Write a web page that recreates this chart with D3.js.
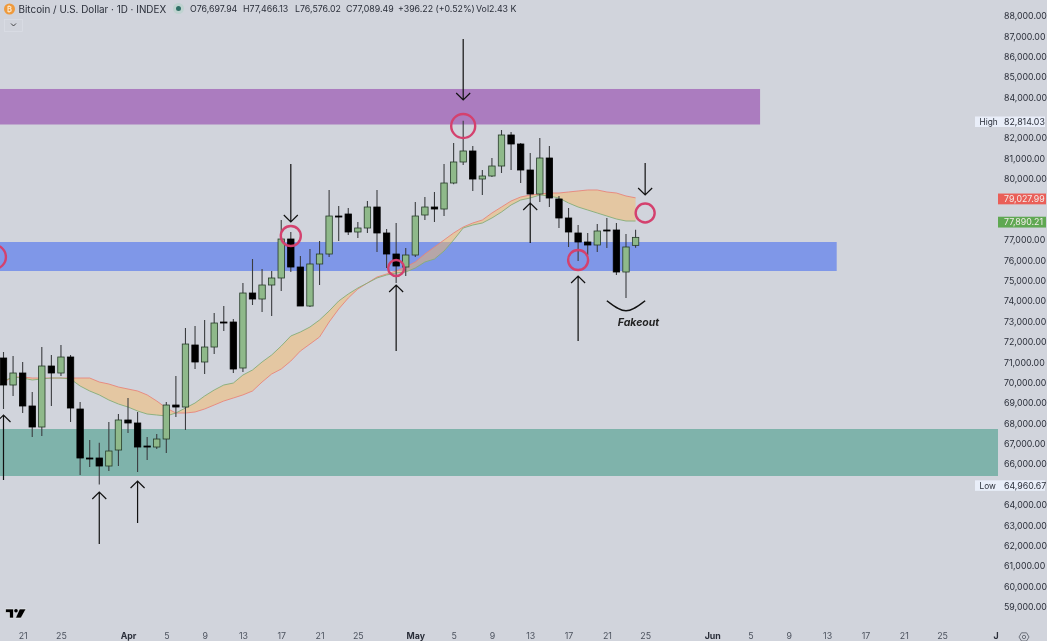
<!DOCTYPE html>
<html lang="en">

<head>
    <meta charset="UTF-8">
    <title>Bitcoin / U.S. Dollar 1D</title>
    <script src="https://d3js.org/d3.v7.min.js"></script>
    <style>
        html, body { margin: 0; padding: 0; background: #d1d4dc; overflow: hidden; }
        text { font-family: Inter, "Liberation Sans", sans-serif; }
        svg { filter: blur(0.3px); }
    </style>
</head>

<body>
    <div id="graph"></div>

    <script>
        const dates = [
            "03-19", "03-20", "03-21", "03-22", "03-23", "03-24", "03-25", "03-26", "03-27", "03-28", "03-29", "03-30", "03-31",
            "04-01", "04-02", "04-03", "04-04", "04-05", "04-06", "04-07", "04-08", "04-09", "04-10", "04-11", "04-12", "04-13", "04-14", "04-15",
            "04-16", "04-17", "04-18", "04-19", "04-20", "04-21", "04-22", "04-23", "04-24", "04-25", "04-26", "04-27", "04-28", "04-29", "04-30",
            "05-01", "05-02", "05-03", "05-04", "05-05", "05-06", "05-07", "05-08", "05-09", "05-10", "05-11", "05-12", "05-13", "05-14", "05-15",
            "05-16", "05-17", "05-18", "05-19", "05-20", "05-21", "05-22", "05-23", "05-24"
        ];
        const opens = [
            71169, 69844, 70433, 68814, 67783, 70776, 70433, 71218, 68666, 66262, 66262, 65869, 66654,
            68127, 67980, 66850, 66801, 67194, 68862, 68764, 71807, 70973, 71708, 72935, 72935, 70678, 74358, 74064,
            74751, 75095, 77008, 75634, 73720, 75782, 76272, 78136, 78235, 77352, 77548, 78578, 77303, 76272, 75634,
            76223, 78186, 78578, 78480, 79756, 80787, 81327, 79952, 80100, 80590, 82112, 81670, 80394, 79216, 80983,
            78971, 78039, 77303, 76861, 76714, 77450, 77450, 75389, 76697
        ];
        const highs = [
            71463, 71267, 70973, 69501, 71708, 71316, 71807, 71316, 69010, 67145, 67007, 68028, 68421,
            69206, 68519, 67292, 67439, 69010, 70286, 72641, 72739, 73034, 73377, 73720, 73083, 74849, 76026, 75536,
            75438, 77941, 77352, 76174, 76517, 76910, 79413, 78628, 78529, 77843, 78873, 79413, 77499, 77793, 76566,
            78824, 79069, 79314, 80688, 81719, 82814, 81572, 80394, 80983, 82357, 82259, 81719, 81229, 81964, 81572,
            79118, 78529, 77695, 77303, 77744, 78039, 77793, 77254, 77466
        ];
        const lows = [
            68666, 69304, 68470, 67292, 67341, 68814, 70286, 68028, 65428, 65820, 64961, 65624, 65869,
            67488, 65575, 66164, 66703, 66507, 68274, 67636, 70629, 70384, 71365, 72494, 70433, 70482, 73770, 73426,
            73230, 74457, 75389, 73720, 73671, 74751, 76125, 76910, 77205, 77057, 77303, 76370, 75585, 74849, 75193,
            76125, 77941, 77843, 78136, 79700, 80639, 79363, 79167, 80051, 80247, 80394, 79756, 78677, 78824, 78578,
            77548, 76616, 75929, 76223, 76370, 76566, 75242, 74113, 76576
        ];
        const closes = [
            69844, 70433, 68814, 67783, 70776, 70433, 71218, 68715, 66262, 66213, 65869, 66605, 68127,
            67980, 66801, 66801, 67194, 68862, 68764, 71855, 70973, 71708, 72886, 72886, 70629, 74358, 74064, 74751,
            75095, 77008, 75634, 73720, 75782, 76272, 78136, 78087, 77352, 77548, 78578, 77303, 76272, 75683, 76223,
            78136, 78578, 78480, 79756, 80787, 81327, 79952, 80100, 80590, 82112, 81670, 80394, 79216, 80983, 79020,
            78039, 77352, 76861, 76714, 77401, 77401, 75389, 76616, 77089
        ];
        const slowLine = [
            69991, 70236, 70236, 70187, 70187, 70187, 70187, 70187, 70187, 70187, 69991, 69892, 69745,
            69647, 69550, 69358, 69059, 68715, 68470, 68470, 68519, 68666, 68862, 69059, 69206, 69358, 69550, 69991,
            70384, 70629, 71021, 71513, 71855, 72199, 72935, 73573, 74113, 74555, 74849, 75143, 75291, 75438, 75634,
            75880, 76272, 76616, 76959, 77303, 77597, 77793, 77941, 78284, 78578, 78873, 79069, 79167, 79216, 79265,
            79265, 79315, 79364, 79413, 79413, 79315, 79265, 79118, 79028
        ];
        const fastLine = [
            70040, 70236, 70187, 70089, 70138, 70187, 70187, 70138, 69795, 69550, 69358, 69108, 68912,
            68764, 68568, 68421, 68372, 68323, 68470, 68715, 68961, 69304, 69599, 69844, 69941, 70335, 70580, 70973,
            71316, 71757, 72248, 72445, 72690, 73034, 73475, 73966, 74309, 74604, 74849, 75095, 75242, 75340, 75389,
            75585, 75880, 76027, 76420, 76959, 77548, 77695, 77793, 78039, 78333, 78677, 78922, 79020, 79167, 79118,
            79020, 78775, 78578, 78431, 78284, 78136, 77990, 77892, 77890
        ];

        // price zones: end date, top, bottom, colour
        const zoneEnds = ["06-06", "06-14", "07-01"];
        const zoneTops = [84370, 76861, 67685];
        const zoneBottoms = [82627, 75438, 65379];
        const zoneColors = ["#ab7cbf", "#7f97e8", "#7fb3ab"];

        // hand drawn arrows: date, tail price, head price
        const arrowDates = ["04-18", "05-06", "05-25", "03-29", "04-02", "04-29", "05-13", "05-18", "03-19"];
        const arrowTails = [80688, 86822, 80738, 62042, 63072, 71513, 76812, 72003, 65182];
        const arrowHeads = [77843, 83829, 79167, 64594, 65133, 74751, 78775, 75193, 68372];

        const circleDates = ["05-06", "04-18", "04-29", "05-18", "05-25", "03-18"];
        const circlePrices = [82553, 77155, 75585, 75978, 78284, 76125];
        const circleSizes = [12, 10, 8, 10, 9.5, 12];

        const smileDates = ["05-21", "05-23", "05-25"];
        const smilePrices = [73980, 73490, 73980];

        // 65k, 78k, 79k and 83k sit behind the price tags
        const priceTicks = [
            59000, 60000, 61000, 62000, 63000, 64000, 66000, 67000, 68000, 69000, 70000, 71000, 72000, 73000,
            74000, 75000, 76000, 77000, 80000, 81000, 82000, 84000, 85000, 86000, 87000, 88000
        ];
        const timeTicks = [
            "03-21", "03-25", "04-01", "04-05", "04-09", "04-13", "04-17", "04-21", "04-25", "05-01", "05-05", "05-09",
            "05-13", "05-17", "05-21", "05-25", "06-01", "06-05", "06-09", "06-13", "06-17", "06-21", "06-25", "07-01"
        ];
        const timeLabels = [
            "21", "25", "Apr", "5", "9", "13", "17", "21", "25", "May", "5", "9",
            "13", "17", "21", "25", "Jun", "5", "9", "13", "17", "21", "25", "J"
        ];

        const legendParts = ["O76,697.94", "H77,466.13", "L76,576.02", "C77,089.49", "+396.22 (+0.52%)", "Vol2.43 K"];
        const legendStarts = [190, 243, 295, 346, 398, 476];

        const width = 1047, height = 641;
        const day = s => new Date(`2025-${s}T00:00:00Z`);

        const x = d3.scaleUtc().domain([day("04-01"), day("07-01")]).range([128, 999.5]);
        const y = d3.scaleLinear().domain([88000, 59000]).range([15, 606]);

        const svg = d3.select("#graph").append("svg")
            .attr("width", width)
            .attr("height", height)
            .style("display", "block");

        // zones
        svg.append("g").selectAll("rect")
            .data(zoneEnds)
            .enter().append("rect")
            .attr("x", 0)
            .attr("width", d => Math.min(x(day(d)), 998))
            .attr("y", (d, i) => y(zoneTops[i]))
            .attr("height", (d, i) => y(zoneBottoms[i]) - y(zoneTops[i]))
            .attr("fill", (d, i) => zoneColors[i]);

        // ribbon between the two averages
        const rows = dates.map((d, i) => ({
            date: day(d), open: opens[i], high: highs[i], low: lows[i], close: closes[i], slow: slowLine[i], fast: fastLine[i]
        }));

        svg.append("path")
            .datum(rows)
            .attr("fill", "rgba(250,185,90,0.45)")
            .attr("d", d3.area().x(d => x(d.date)).y0(d => y(d.slow)).y1(d => y(d.fast)));
        svg.append("path")
            .datum(rows)
            .attr("fill", "none")
            .attr("stroke", "#e8847a")
            .attr("stroke-width", 0.9)
            .attr("d", d3.line().x(d => x(d.date)).y(d => y(d.slow)));
        svg.append("path")
            .datum(rows)
            .attr("fill", "none")
            .attr("stroke", "#84ad78")
            .attr("stroke-width", 0.9)
            .attr("d", d3.line().x(d => x(d.date)).y(d => y(d.fast)));

        // candles
        const candle = svg.append("g").selectAll("g")
            .data(rows)
            .enter().append("g");
        candle.append("line")
            .attr("x1", d => x(d.date))
            .attr("x2", d => x(d.date))
            .attr("y1", d => y(d.high))
            .attr("y2", d => y(d.low))
            .attr("stroke", "#3b3d40")
            .attr("stroke-width", 1.1);
        candle.append("rect")
            .attr("x", d => x(d.date) - 3.2)
            .attr("width", 6.4)
            .attr("y", d => y(Math.max(d.open, d.close)))
            .attr("height", d => Math.max(1, Math.abs(y(d.open) - y(d.close))))
            .attr("fill", d => d.close > d.open ? "#8fb98a" : "#000")
            .attr("stroke", d => d.close > d.open ? "#263a28" : "#000")
            .attr("stroke-width", 0.8);

        // arrows
        const arrows = svg.append("g").attr("fill", "none").attr("stroke", "#111").attr("stroke-width", 1.2);
        arrowDates.forEach((d, i) => {
            const ax = x(day(d));
            const tail = y(arrowTails[i]);
            const head = y(arrowHeads[i]);
            const dir = head > tail ? -1 : 1;
            arrows.append("path")
                .attr("d", `M${ax},${tail}L${ax},${head}M${ax - 7},${head + dir * 7}L${ax},${head}L${ax + 7},${head + dir * 7}`);
        });

        // circles
        svg.append("g").selectAll("circle")
            .data(circleDates)
            .enter().append("circle")
            .attr("cx", d => x(day(d)))
            .attr("cy", (d, i) => y(circlePrices[i]))
            .attr("r", (d, i) => circleSizes[i])
            .attr("fill", "none")
            .attr("stroke", "#d4416e")
            .attr("stroke-width", 2.4);

        // fakeout mark
        svg.append("path")
            .datum(smileDates.map((d, i) => [x(day(d)), y(smilePrices[i])]))
            .attr("fill", "none")
            .attr("stroke", "#111")
            .attr("stroke-width", 1.5)
            .attr("d", d3.line().curve(d3.curveNatural));
        svg.append("text")
            .attr("x", 638.5)
            .attr("y", 326)
            .attr("text-anchor", "middle")
            .attr("font-size", 10.5)
            .attr("font-weight", 700)
            .attr("font-style", "italic")
            .attr("fill", "#222")
            .text("Fakeout");

        // price axis
        const priceAxis = svg.append("g")
            .attr("transform", "translate(1004,0.8)")
            .call(d3.axisRight(y).tickValues(priceTicks).tickSize(0).tickPadding(0).tickFormat(d3.format(",.2f")));
        priceAxis.select(".domain").remove();
        priceAxis.selectAll("text")
            .attr("font-family", null)
            .attr("font-size", 8.8)
            .attr("fill", "#2a2e39");

        // time axis
        const timeAxis = svg.append("g")
            .attr("transform", "translate(0,630.5)")
            .call(d3.axisBottom(x).tickValues(timeTicks.map(day)).tickSize(0).tickPadding(2)
                .tickFormat((d, i) => timeLabels[i]));
        timeAxis.select(".domain").remove();
        timeAxis.selectAll("text")
            .attr("font-family", null)
            .attr("font-size", 8.8)
            .attr("dx", (d, i) => timeLabels[i] === "J" ? -4 : 0)
            .attr("font-weight", (d, i) => /[A-Za-z]/.test(timeLabels[i]) ? 700 : 400)
            .attr("fill", (d, i) => /[A-Za-z]/.test(timeLabels[i]) ? "#2a2e39" : "#4c525e");

        // high / low tags
        const tagNames = ["High", "Low"];
        const tagValues = [82814.03, 64960.67];
        tagNames.forEach((name, i) => {
            const ty = y(tagValues[i]) + 0.8;
            svg.append("rect").attr("x", 975).attr("y", ty - 5).attr("width", 70).attr("height", 10.5).attr("fill", "#e9eef9");
            svg.append("text").attr("x", 979.5).attr("y", ty + 3.3).attr("font-size", 8.3).attr("fill", "#2a2e39").text(name);
            svg.append("text").attr("x", 1004).attr("y", ty + 3.3).attr("font-size", 8.8).attr("fill", "#2a2e39")
                .text(d3.format(",.2f")(tagValues[i]));
        });

        // last price tags
        const lastValues = [79027.99, 77890.21];
        const lastColors = ["#ea5f58", "#5fa852"];
        lastValues.forEach((v, i) => {
            const ty = y(v) + 1;
            svg.append("rect").attr("x", 998).attr("y", ty - 5.3).attr("width", 48).attr("height", 10.8).attr("fill", lastColors[i]);
            svg.append("text").attr("x", 1004).attr("y", ty + 3.2).attr("font-size", 8.8).attr("fill", "#f3ece9")
                .text(d3.format(",.2f")(v));
        });

        // header
        svg.append("circle").attr("cx", 9.5).attr("cy", 9).attr("r", 5.5).attr("fill", "#ef9a3c");
        svg.append("text").attr("x", 9.5).attr("y", 11.6).attr("text-anchor", "middle").attr("font-size", 7.5)
            .attr("font-weight", 700).attr("fill", "#fbe6c8").text("₿");
        svg.append("text").attr("x", 18.5).attr("y", 13).attr("font-size", 9.9).attr("fill", "#2a2e39")
            .text("Bitcoin / U.S. Dollar · 1D · INDEX");
        svg.append("circle").attr("cx", 178.5).attr("cy", 8.5).attr("r", 5.5).attr("fill", "#bfd3d0");
        svg.append("circle").attr("cx", 178.5).attr("cy", 8.5).attr("r", 2.5).attr("fill", "#2f6f66");
        svg.append("g").selectAll("text")
            .data(legendParts)
            .enter().append("text")
            .attr("x", (d, i) => legendStarts[i])
            .attr("y", 12)
            .attr("font-size", 8.8)
            .attr("fill", "#2a2e39")
            .text(d => d);

        svg.append("rect").attr("x", 4.5).attr("y", 19.5).attr("width", 18).attr("height", 12)
            .attr("fill", "none").attr("stroke", "#dcdfe5").attr("stroke-width", 0.7);
        svg.append("path").attr("d", "M11,23.5L13.5,26L16,23.5").attr("fill", "none").attr("stroke", "#333").attr("stroke-width", 0.9);

        // tradingview mark
        svg.append("path")
            .attr("d", "M5.5,609H13.5V618H9.5V612.5H5.5ZM19.5,609H26L21,618H15.5Z")
            .attr("fill", "#000").attr("stroke", "#f4f5f7").attr("stroke-width", 0.6);
        svg.append("circle").attr("cx", 16).attr("cy", 610.8).attr("r", 1.8).attr("fill", "#000");

        // settings icon
        svg.append("path")
            .attr("d", "M1019,637L1021.5,632.8H1026.5L1029,637L1026.5,641H1021.5Z")
            .attr("fill", "none").attr("stroke", "#555a64").attr("stroke-width", 0.8);
        svg.append("circle").attr("cx", 1024).attr("cy", 637).attr("r", 1.7)
            .attr("fill", "none").attr("stroke", "#555a64").attr("stroke-width", 0.8);
    </script>

</body>

</html>
